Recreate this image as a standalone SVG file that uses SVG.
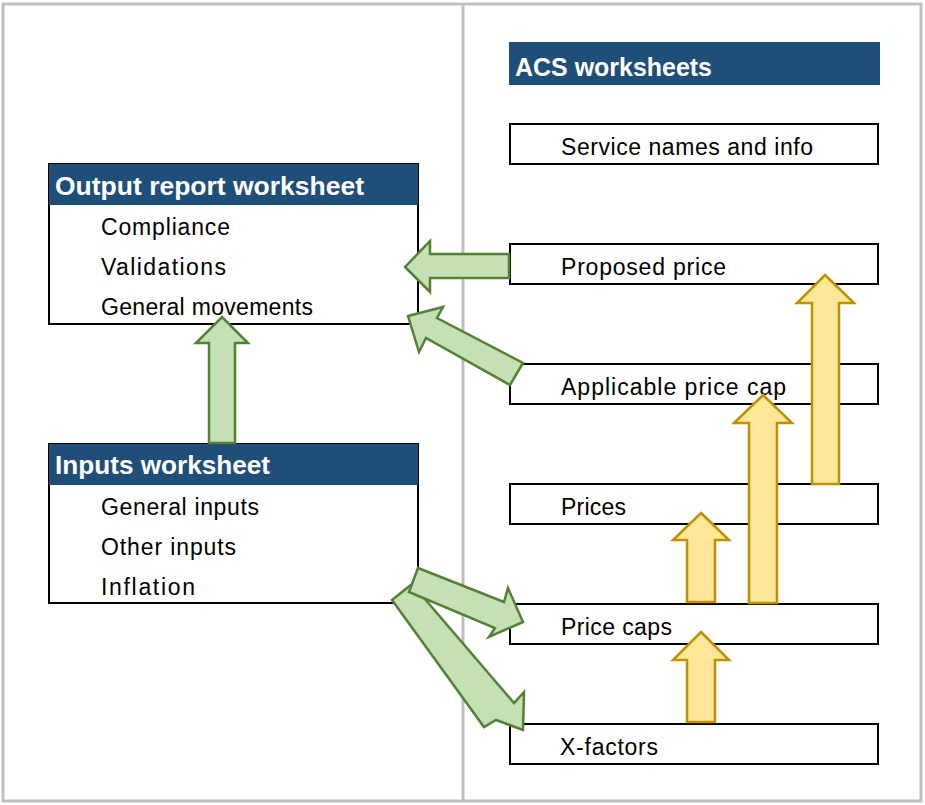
<svg xmlns="http://www.w3.org/2000/svg" width="925" height="805" viewBox="0 0 925 805">
<style>
.frame{fill:none;stroke:#bfbfbf;stroke-width:3}
.box{fill:#fff;stroke:#000;stroke-width:2}
.hdr{fill:#1f4e79}
.ht{font-family:"Liberation Sans",Arial,sans-serif;font-weight:bold;font-size:25px;fill:#fff}
.t{font-family:"Liberation Sans",Arial,sans-serif;font-size:23px;fill:#000}
.g{fill:#c5e0b4;stroke:#538135;stroke-width:2.5;stroke-linejoin:miter}
.y{fill:#ffe699;stroke:#bf9000;stroke-width:2.5;stroke-linejoin:miter}
</style>
<rect width="925" height="805" fill="#fff"/>
<rect class="frame" x="3" y="4" width="918" height="797"/>
<line class="frame" x1="463" y1="4" x2="463" y2="801"/>

<g id="acs-header">
<rect class="hdr" x="509" y="42" width="371" height="43"/>
<text class="ht" x="515" y="76" textLength="197" lengthAdjust="spacingAndGlyphs">ACS worksheets</text>
</g>
<g id="service-names">
<rect class="box" x="510" y="124" width="368" height="40"/>
<text class="t" x="561" y="155" textLength="252" lengthAdjust="spacing">Service names and info</text>
</g>
<g id="proposed-price">
<rect class="box" x="510" y="244" width="368" height="40"/>
<text class="t" x="561" y="275" textLength="165" lengthAdjust="spacing">Proposed price</text>
</g>
<g id="applicable-price-cap">
<rect class="box" x="510" y="364" width="368" height="40"/>
<text class="t" x="561" y="395" textLength="225" lengthAdjust="spacing">Applicable price cap</text>
</g>
<g id="prices">
<rect class="box" x="510" y="484" width="368" height="40"/>
<text class="t" x="561" y="515" textLength="65" lengthAdjust="spacing">Prices</text>
</g>
<g id="price-caps">
<rect class="box" x="510" y="604" width="368" height="40"/>
<text class="t" x="561" y="635" textLength="111" lengthAdjust="spacing">Price caps</text>
</g>
<g id="x-factors">
<rect class="box" x="510" y="724" width="368" height="40"/>
<text class="t" x="560" y="755" textLength="98" lengthAdjust="spacing">X-factors</text>
</g>

<g id="output-report">
<rect class="box" x="49" y="164" width="369" height="160"/>
<rect class="hdr" x="49" y="164" width="369" height="41"/>
<text class="ht" x="55" y="195" textLength="309" lengthAdjust="spacingAndGlyphs">Output report worksheet</text>
<text class="t" x="101" y="235" textLength="129" lengthAdjust="spacing">Compliance</text>
<text class="t" x="101" y="275" textLength="125" lengthAdjust="spacing">Validations</text>
<text class="t" x="101" y="315" textLength="212" lengthAdjust="spacing">General movements</text>
</g>
<g id="inputs">
<rect class="box" x="49" y="444" width="369" height="159"/>
<rect class="hdr" x="49" y="444" width="369" height="41"/>
<text class="ht" x="55" y="474" textLength="215" lengthAdjust="spacingAndGlyphs">Inputs worksheet</text>
<text class="t" x="101" y="515" textLength="158" lengthAdjust="spacing">General inputs</text>
<text class="t" x="101" y="555" textLength="135" lengthAdjust="spacing">Other inputs</text>
<text class="t" x="101" y="595" textLength="94" lengthAdjust="spacing">Inflation</text>
</g>

<g id="connectors">
<polygon class="g" points="405,267 430,241 430,254 509,254 509,278 430,278 430,292"/>
<polygon class="g" points="408,316 443,307 437,318 523,363 510,385 426,338 419,352"/>
<polygon class="g" points="222,317 248,343 235,343 235,443 209,443 209,343 196,343"/>
<polygon class="g" points="523,730 496,720 484,727 392,600 412,584 514,703 524,692"/>
<polygon class="g" points="523,622 489,637 495,628 409,592 418,568 504,602 508,588"/>
<polygon class="y" points="701,513 729,540 715,540 715,602 687,602 687,540 673,540"/>
<polygon class="y" points="701,632 729,660 715,660 715,722 687,722 687,660 673,660"/>
<polygon class="y" points="763,395 792,423 777,423 777,603 749,603 749,423 734,423"/>
<polygon class="y" points="825,275 854,303 839,303 839,484 812,484 812,303 797,303"/>
</g>
</svg>
